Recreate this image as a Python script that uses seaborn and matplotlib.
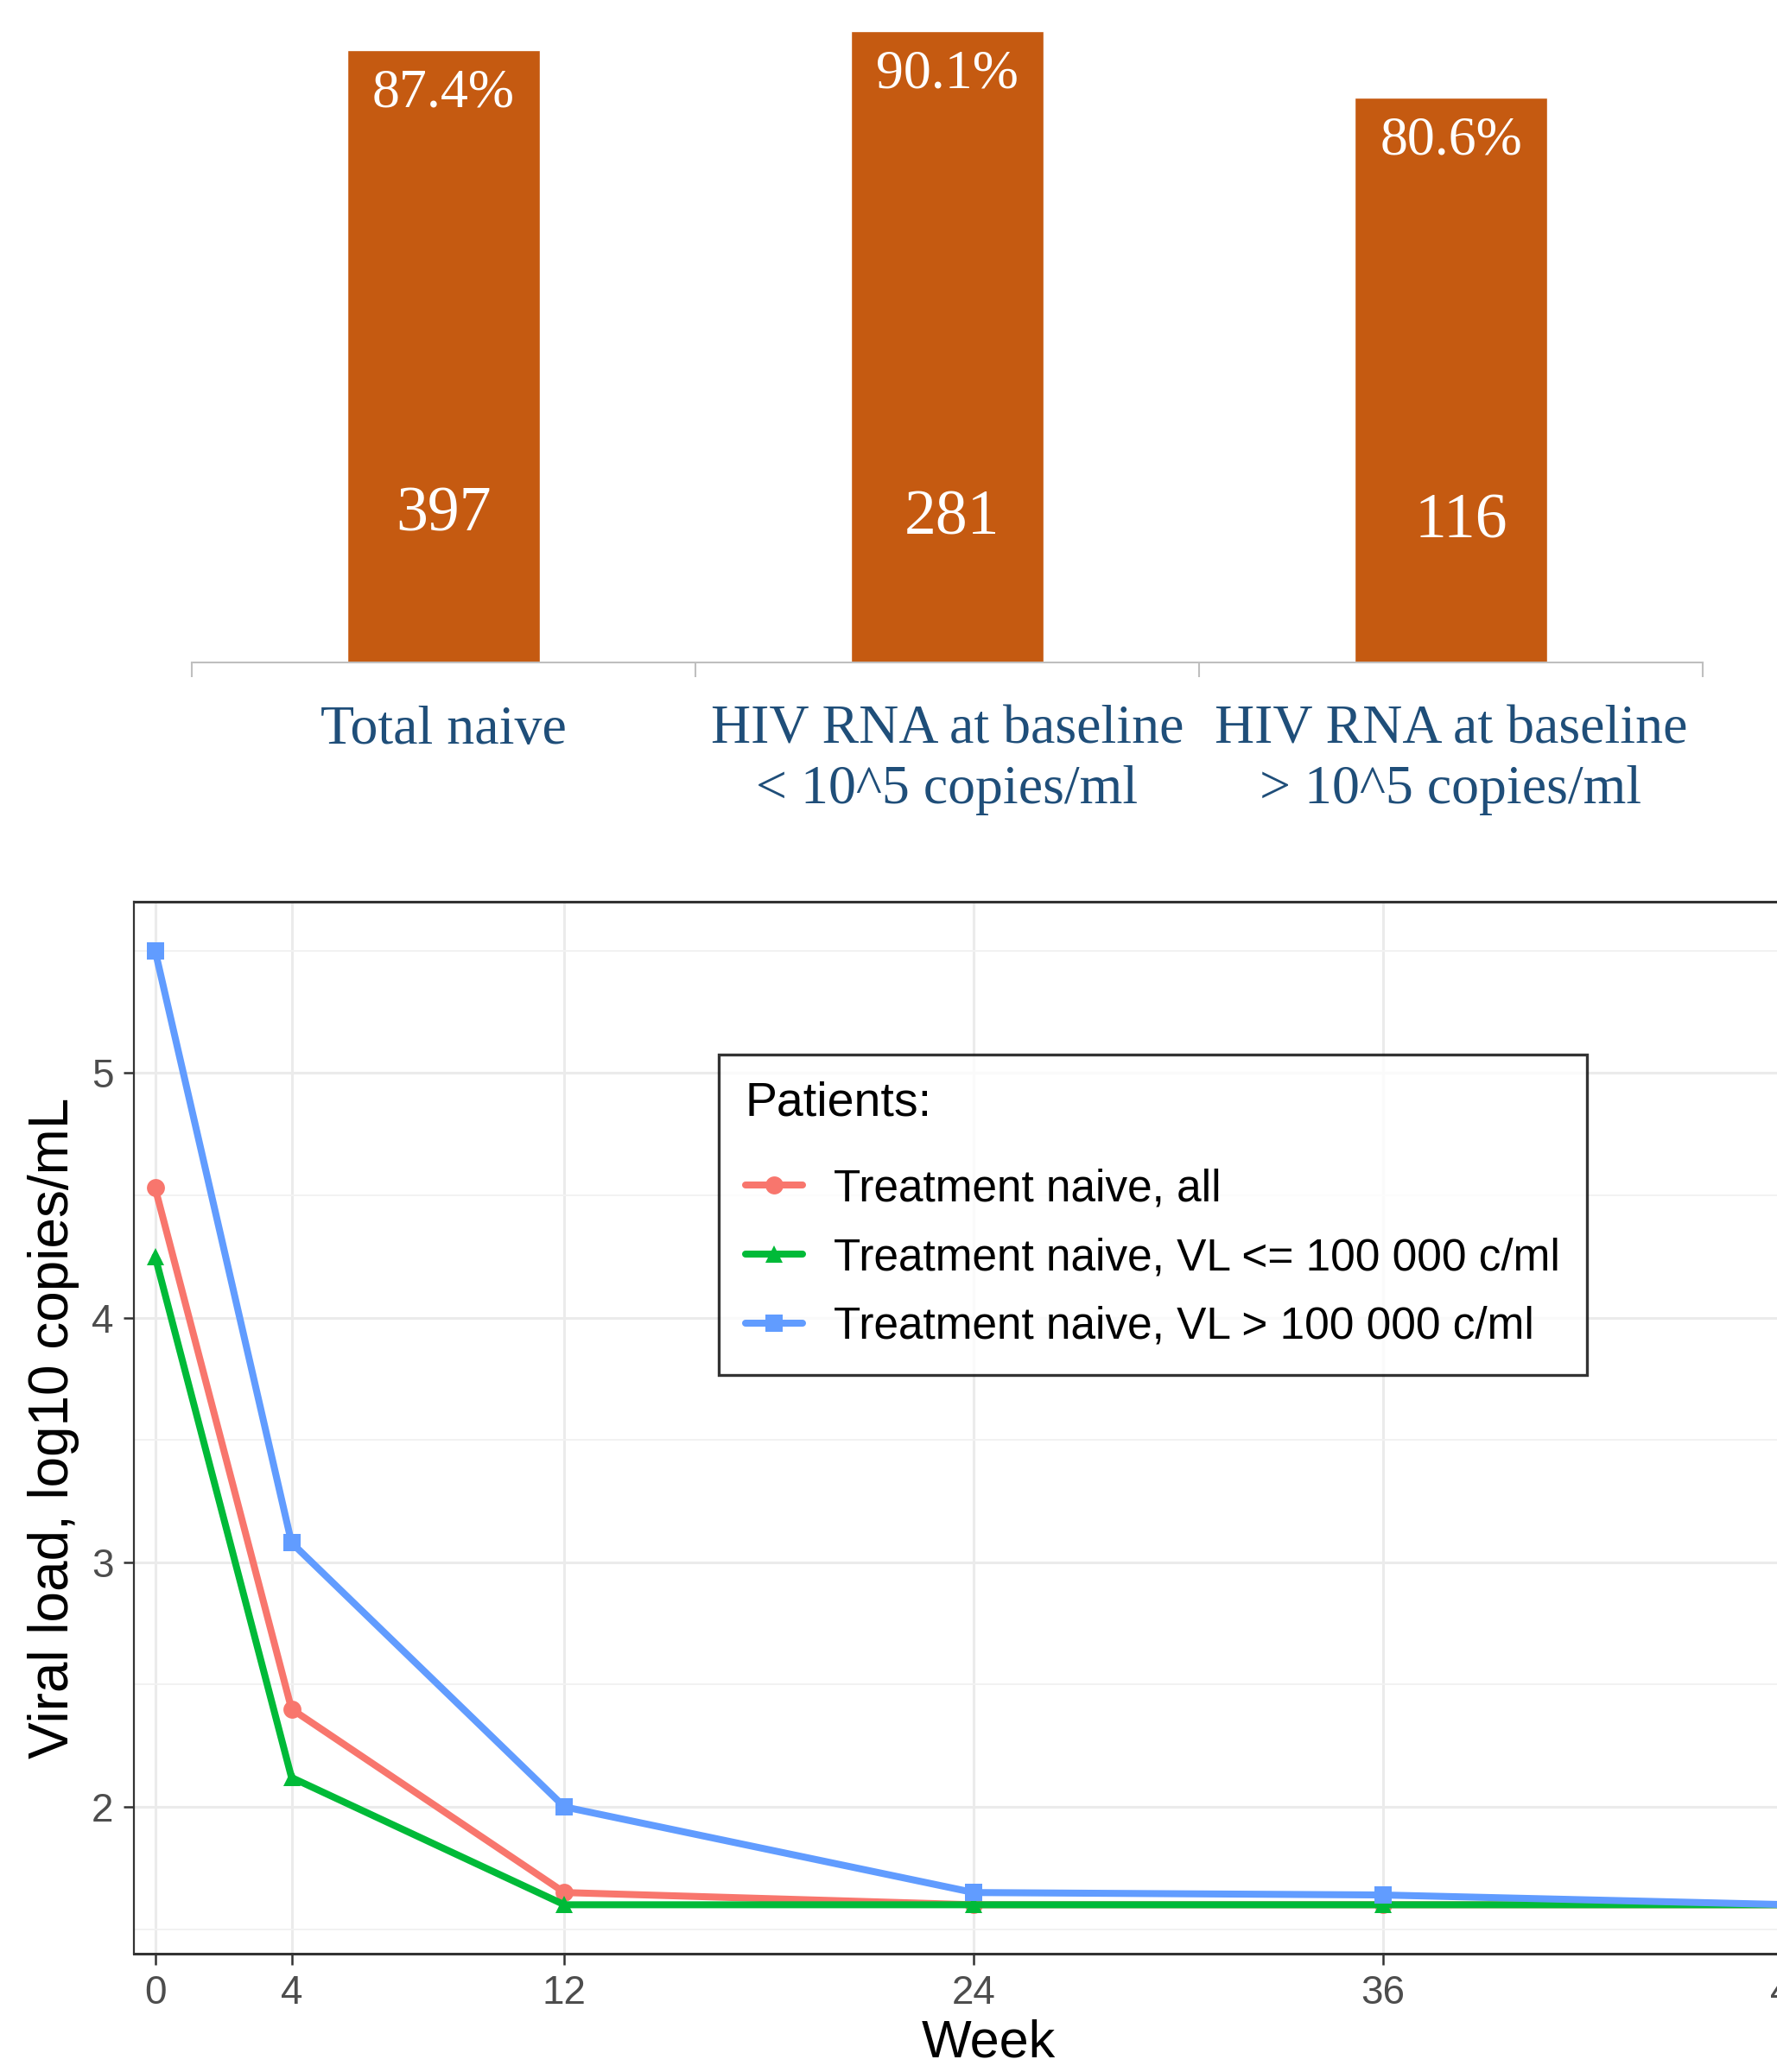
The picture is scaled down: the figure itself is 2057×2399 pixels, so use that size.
import pandas as pd
import seaborn as sns
import matplotlib.pyplot as plt
from matplotlib.ticker import FixedLocator

# top panel: response rate by baseline viral load
categories = ["Total naive",
              "HIV RNA at baseline\n< 10^5 copies/ml",
              "HIV RNA at baseline\n> 10^5 copies/ml"]
response_pct = [87.4, 90.1, 80.6]
n_patients = [397, 281, 116]

# bottom panel: viral load over time
weeks = [0, 4, 12, 24, 36, 48]
vl_all = [4.53, 2.40, 1.65, 1.60, 1.60, 1.60]
vl_low = [4.25, 2.12, 1.60, 1.60, 1.60, 1.60]
vl_high = [5.50, 3.08, 2.00, 1.65, 1.64, 1.60]
groups = ["Treatment naive, all",
          "Treatment naive, VL <= 100 000 c/ml",
          "Treatment naive, VL > 100 000 c/ml"]

sns.set_style("white")
plt.rcParams['font.family'] = ['Liberation Sans', 'DejaVu Sans']

fig = plt.figure(figsize=(20.57, 23.99), dpi=100)

# ---------- top bar chart ----------
ax1 = fig.add_axes([0.1079, 0.6803, 0.8503, 0.3197])
bar_df = pd.DataFrame({"cat": categories, "pct": response_pct})
sns.barplot(data=bar_df, x="cat", y="pct", color="#C55A11", width=0.383,
            saturation=1, ax=ax1)
ax1.set_ylim(0, 94.5)
ax1.set_xlim(-0.5, 2.5)
for i, (p, n) in enumerate(zip(response_pct, n_patients)):
    ax1.text(i, p - 6.3, f"{p}%", ha="center", va="center", color="white",
             fontsize=46, family="Liberation Serif")
    ax1.text(i + 0.01 * i, 21 - 0.5 * i, str(n), ha="center", va="center",
             color="white", fontsize=53, family="Liberation Serif")
for s in ["top", "right", "left"]:
    ax1.spines[s].set_visible(False)
ax1.spines["bottom"].set_color("#BFBFBF")
ax1.spines["bottom"].set_linewidth(1.5)
ax1.set_yticks([])
ax1.set_xlabel("")
ax1.set_ylabel("")
ax1.xaxis.set_minor_locator(FixedLocator([-0.5, 0.5, 1.5, 2.5]))
ax1.tick_params(axis="x", which="major", length=0, pad=36, labelsize=46,
                labelcolor="#1F4E79")
ax1.tick_params(axis="x", which="minor", length=12, width=1.5, color="#BFBFBF",
                direction="out", bottom=True)
for lbl in ax1.get_xticklabels():
    lbl.set_family("Liberation Serif")
    lbl.set_linespacing(1.25)

# ---------- bottom line chart ----------
ax2 = fig.add_axes([0.0754, 0.0571, 0.962, 0.5077])
line_df = pd.DataFrame({
    "week": weeks * 3,
    "vl": vl_all + vl_low + vl_high,
    "group": [groups[0]] * len(weeks) + [groups[1]] * len(weeks) + [groups[2]] * len(weeks),
})
palette = {groups[0]: "#F8766D", groups[1]: "#00BA38", groups[2]: "#619CFF"}
markers = {groups[0]: "o", groups[1]: "^", groups[2]: "s"}
sns.lineplot(data=line_df, x="week", y="vl", hue="group", style="group",
             hue_order=groups, style_order=groups, palette=palette,
             markers=markers, dashes=False, linewidth=5.8, markersize=15,
             markeredgewidth=0, ax=ax2)

ax2.set_xlim(-0.62, 49.5)
ax2.set_ylim(1.4, 5.70)
ax2.set_xticks(weeks)
ax2.set_yticks([2, 3, 4, 5])
ax2.yaxis.set_minor_locator(FixedLocator([1.5, 2.5, 3.5, 4.5, 5.5]))
ax2.grid(True, which="major", color="#EBEBEB", linewidth=2.2)
ax2.grid(True, which="minor", axis="y", color="#F2F2F2", linewidth=1.4)
ax2.set_axisbelow(True)
for s in ax2.spines.values():
    s.set_color("#333333")
    s.set_linewidth(2.2)
ax2.spines["left"].set_linewidth(1.6)
ax2.tick_params(axis="both", which="major", length=9, width=1.8, color="#333333",
                labelsize=33, labelcolor="#4D4D4D", pad=8,
                bottom=True, left=True)
ax2.tick_params(axis="both", which="minor", length=0)
ax2.set_xlabel("Week", fontsize=44, labelpad=6, color="black")
ax2.set_ylabel("Viral load, log10 copies/mL", fontsize=46, labelpad=10,
               color="black")

handles, labels = ax2.get_legend_handles_labels()
leg = ax2.legend(handles, labels, title="Patients:", loc="upper left",
                 bbox_to_anchor=(0.329, 0.876), fontsize=37, title_fontsize=40,
                 frameon=True, fancybox=False, edgecolor="black",
                 handlelength=1.3, handletextpad=0.7, labelspacing=0.6,
                 borderpad=0.6, alignment="left")
leg.get_frame().set_linewidth(2.4)
leg._legend_box.sep = 35
for t in leg.get_texts():
    t.set_color("black")
leg.get_title().set_color("black")
for h in leg.legend_handles:
    h.set_linewidth(5.8)
    h.set_markersize(15)

fig.savefig("out.png", dpi=100)
